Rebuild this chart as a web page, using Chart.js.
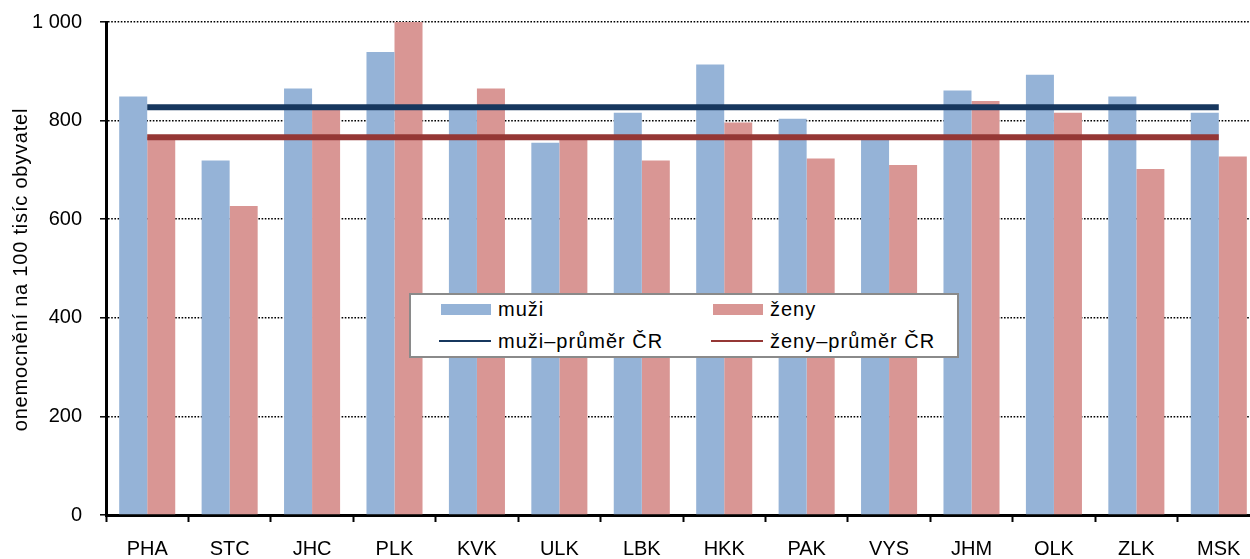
<!DOCTYPE html>
<html>
<head>
<meta charset="utf-8">
<script src="https://cdn.jsdelivr.net/npm/chart.js@4.4.1/dist/chart.umd.min.js"></script>
<style>
  html, body { margin: 0; padding: 0; background: #fff; overflow: hidden; }
  #wrap { position: relative; width: 1260px; height: 559px; }
  #legend {
    position: absolute; left: 409px; top: 293px; width: 550px; height: 65px;
    box-sizing: border-box; border: 2px solid #8a8a8a; background: #fff;
    font-family: "Liberation Sans", Arial, sans-serif; font-size: 20px; letter-spacing: 1px; color: #000;
  }
  .item { position: absolute; height: 28px; line-height: 28px; display: flex; align-items: center; white-space: nowrap; }
  .sw { width: 50px; margin-right: 7px; }
</style>
</head>
<body>
<div id="wrap">
  <canvas id="chart"></canvas>
  <div id="legend"></div>
</div>
<script>
const categories = ['PHA', 'STC', 'JHC', 'PLK', 'KVK', 'ULK', 'LBK', 'HKK', 'PAK', 'VYS', 'JHM', 'OLK', 'ZLK', 'MSK'];
const muzi = [849, 719, 865, 939, 824, 755, 816, 914, 804, 766, 861, 893, 849, 816];
const zeny = [766, 627, 822, 1000, 865, 762, 719, 796, 723, 710, 840, 816, 702, 727];
const muziPrumer = [827, 827, 827, 827, 827, 827, 827, 827, 827, 827, 827, 827, 827, 827];
const zenyPrumer = [766, 766, 766, 766, 766, 766, 766, 766, 766, 766, 766, 766, 766, 766];
const yTicks = [0, 200, 400, 600, 800, 1000];
const yTitle = 'onemocnění na 100 tisíc obyvatel';

const FONT = '"Liberation Sans", Arial, sans-serif';

// axis title drawn by hand so the letter spacing can follow the original
const titlePlugin = {
  id: 'yTitle',
  afterDraw(chart) {
    const ctx = chart.ctx;
    const area = chart.chartArea;
    ctx.save();
    ctx.font = '20px ' + FONT;
    ctx.letterSpacing = '0.8px';
    ctx.fillStyle = '#000';
    ctx.textAlign = 'center';
    ctx.textBaseline = 'middle';
    ctx.translate(21, (area.top + area.bottom) / 2 + 1);
    ctx.rotate(-Math.PI / 2);
    ctx.fillText(yTitle, 0, 0);
    ctx.restore();
  }
};

const chart = new Chart(document.getElementById('chart'), {
  type: 'bar',
  data: {
    labels: categories,
    datasets: [
      { type: 'bar', label: 'muži', data: muzi, backgroundColor: '#95B3D7', order: 2 },
      { type: 'bar', label: 'ženy', data: zeny, backgroundColor: '#D99694', order: 2 },
      { type: 'line', label: 'muži–průměr ČR', data: muziPrumer, borderColor: '#17375E', borderWidth: 6,
        pointRadius: 0, borderCapStyle: 'butt', fill: false, order: 1 },
      { type: 'line', label: 'ženy–průměr ČR', data: zenyPrumer, borderColor: '#953735', borderWidth: 6,
        pointRadius: 0, borderCapStyle: 'butt', fill: false, order: 0 }
    ]
  },
  options: {
    responsive: true,
    maintainAspectRatio: false,
    animation: false,
    categoryPercentage: 0.68,
    barPercentage: 1.0,
    layout: { padding: { top: 22, left: 0, right: 0, bottom: 0 } },
    plugins: {
      legend: { display: false },
      tooltip: { enabled: false }
    },
    scales: {
      x: {
        afterFit(scale) { scale.height = 44; scale.paddingLeft = 0; scale.paddingRight = 0; },
        grid: { display: true, drawOnChartArea: false, drawTicks: true, tickLength: 7, tickWidth: 2, tickColor: '#000', offset: true },
        border: { display: true, color: '#000', width: 3 },
        ticks: { color: '#000', padding: 15, font: { family: FONT, size: 20 } }
      },
      y: {
        min: 0,
        max: 1000,
        afterFit(scale) { scale.width = 106; scale.paddingTop = 0; scale.paddingBottom = 0; },
        afterBuildTicks(scale) { scale.ticks = yTicks.map(v => ({ value: v })); },
        grid: { color: '#000', lineWidth: 1.6, tickColor: '#000', tickWidth: 1.5, tickLength: 6, drawTicks: true },
        border: { display: true, color: '#000', width: 3, dash: [1.6, 1.6] },
        ticks: {
          color: '#000',
          padding: 18,
          font: { family: FONT, size: 20 },
          callback: v => String(v).replace(/\B(?=(\d{3})+(?!\d))/g, ' ')
        }
      }
    }
  },
  plugins: [titlePlugin]
});

// legend box sits inside the plot, two columns like the original
function buildLegend() {
  const box = document.getElementById('legend');
  const cols = [30, 302];
  const rows = [0, 32];
  chart.data.datasets.forEach((ds, i) => {
    const item = document.createElement('div');
    item.className = 'item';
    item.style.left = cols[i % 2] + 'px';
    item.style.top = rows[Math.floor(i / 2)] + 'px';
    const sw = document.createElement('span');
    sw.className = 'sw';
    if (ds.type === 'bar') {
      sw.style.height = '11px';
      sw.style.background = ds.backgroundColor;
    } else {
      sw.style.height = '2.5px';
      sw.style.width = '52px';
      sw.style.marginLeft = '-2px';
      sw.style.background = ds.borderColor;
    }
    const txt = document.createElement('span');
    txt.textContent = ds.label;
    item.appendChild(sw);
    item.appendChild(txt);
    box.appendChild(item);
  });
}
buildLegend();
</script>
</body>
</html>
